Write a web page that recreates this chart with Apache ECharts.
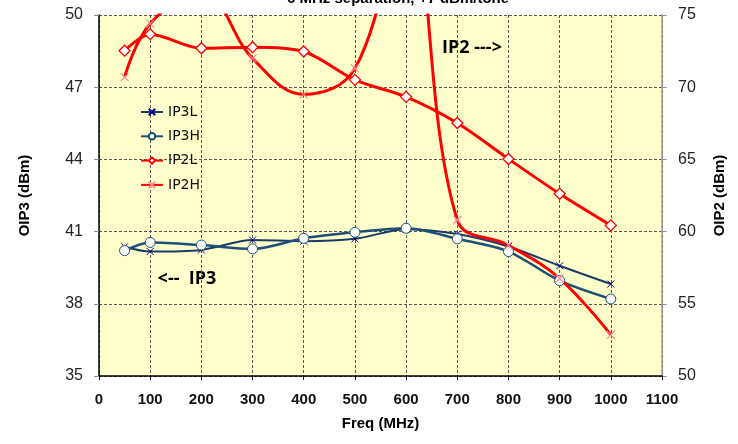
<!DOCTYPE html>
<html>
<head>
<meta charset="utf-8">
<script src="https://cdn.jsdelivr.net/npm/echarts@6/dist/echarts.min.js"></script>
<style>
html,body{margin:0;padding:0;background:#fff;}
#chart{width:738px;height:444px;}
</style>
</head>
<body>
<div id="chart"></div>
<script>
const titleText = '6 MHz separation, +7 dBm/tone';
const freq = [50, 100, 200, 300, 400, 500, 600, 700, 800, 900, 1000];
const ip3l = [40.37, 40.17, 40.24, 40.65, 40.6, 40.7, 41.1, 40.9, 40.38, 39.58, 38.82];
const ip3h = [40.21, 40.55, 40.44, 40.28, 40.72, 40.97, 41.14, 40.7, 40.17, 38.96, 38.2];
const ip2l = [72.53, 73.67, 72.7, 72.77, 72.47, 70.51, 69.33, 67.52, 65.03, 62.62, 60.43];
const ip2h = [70.7, 74.4, 76.6, 72.0, 69.5, 71.3, 82, 60.8, 59.05, 56.75, 52.85];
const xTicks = {min: 0, max: 1100, interval: 100};
const yLeftTicks = {min: 35, max: 50, interval: 3};
const yRightTicks = {min: 50, max: 75, interval: 5};

const pair = arr => freq.map((f, i) => [f, arr[i]]);
const crossPath = 'path://M0,0L10,10M10,0L0,10';

const chart = echarts.init(document.getElementById('chart'), null, {renderer: 'canvas'});
const gridDash = {color: '#555', type: [3, 2], width: 1};
chart.setOption({
  animation: false,
  backgroundColor: '#ffffff',
  grid: {left: 99, right: 76, top: 15, bottom: 68, show: true, backgroundColor: '#FFFFCC', borderWidth: 0},
  legend: {
    orient: 'vertical', left: 140, top: 105, padding: 0, itemWidth: 22, itemHeight: 8, itemGap: 10.3,
    textStyle: {fontFamily: 'DejaVu Sans', fontSize: 14, color: '#111'},
    data: ['IP3L', 'IP3H', 'IP2L', 'IP2H']
  },
  graphic: [
    {type: 'text', x: 398, y: -1, style: {text: titleText, font: 'bold 15px "Liberation Sans"', fill: '#000', textAlign: 'center', textVerticalAlign: 'middle'}},
    {type: 'text', x: 187, y: 279, style: {text: '<--  IP3', font: 'bold 18px "Open Sans"', fill: '#000', textAlign: 'center', textVerticalAlign: 'middle'}},
    {type: 'text', x: 472, y: 48, style: {text: 'IP2 --->', font: 'bold 18px "Open Sans"', fill: '#000', textAlign: 'center', textVerticalAlign: 'middle'}}
  ],
  xAxis: {
    type: 'value', min: xTicks.min, max: xTicks.max, interval: xTicks.interval,
    name: 'Freq (MHz)', nameLocation: 'middle', nameGap: 40,
    nameTextStyle: {fontFamily: 'Liberation Sans', fontWeight: 'bold', fontSize: 15, color: '#000'},
    axisLine: {onZero: false, lineStyle: {color: '#000', width: 1.5}},
    axisTick: {show: true, length: 4, lineStyle: {color: '#000'}},
    axisLabel: {margin: 16, fontFamily: 'Liberation Sans', fontWeight: 'bold', fontSize: 15, color: '#111', formatter: v => String(v)},
    splitLine: {show: true, lineStyle: gridDash}
  },
  yAxis: [
    {
      type: 'value', position: 'left', min: yLeftTicks.min, max: yLeftTicks.max, interval: yLeftTicks.interval,
      name: 'OIP3 (dBm)', nameLocation: 'middle', nameGap: 67, nameRotate: 90,
      nameTextStyle: {fontFamily: 'Liberation Sans', fontWeight: 'bold', fontSize: 15, color: '#000'},
      axisLine: {show: true, onZero: false, lineStyle: {color: '#000', width: 1.5}},
      axisTick: {show: true, length: 5, lineStyle: {color: '#888'}},
      axisLabel: {margin: 16, fontFamily: 'Liberation Sans', fontSize: 16, color: '#222'},
      splitLine: {show: true, lineStyle: gridDash}
    },
    {
      type: 'value', position: 'right', min: yRightTicks.min, max: yRightTicks.max, interval: yRightTicks.interval,
      name: 'OIP2 (dBm)', nameLocation: 'middle', nameGap: 50, nameRotate: 90,
      nameTextStyle: {fontFamily: 'Liberation Sans', fontWeight: 'bold', fontSize: 15, color: '#000'},
      axisLine: {show: true, onZero: false, lineStyle: {color: '#999', width: 1.5}},
      axisTick: {show: true, length: 5, lineStyle: {color: '#999'}},
      axisLabel: {margin: 16, fontFamily: 'Liberation Sans', fontSize: 16, color: '#222'},
      splitLine: {show: false}
    }
  ],
  series: [
    {
      name: 'IP3L', type: 'line', yAxisIndex: 0, data: pair(ip3l), smooth: 0.3,
      symbol: crossPath, symbolSize: 7, color: '#1B3A66',
      lineStyle: {color: '#1B3A66', width: 2},
      itemStyle: {color: '#00008B', borderColor: '#00008B', borderWidth: 1}
    },
    {
      name: 'IP3H', type: 'line', yAxisIndex: 0, data: pair(ip3h), smooth: 0.3,
      symbol: 'circle', symbolSize: 10, color: '#1F4E79',
      lineStyle: {color: '#1F4E79', width: 2.5},
      itemStyle: {color: '#ffffff', borderColor: '#1F4E79', borderWidth: 1}
    },
    {
      name: 'IP2L', type: 'line', yAxisIndex: 1, data: pair(ip2l), smooth: 0.3,
      symbol: 'diamond', symbolSize: 11, color: '#FF0000',
      lineStyle: {color: '#FF0000', width: 3},
      itemStyle: {color: '#ffffff', borderColor: '#FF0000', borderWidth: 1.3}
    },
    {
      name: 'IP2H', type: 'line', yAxisIndex: 1, data: pair(ip2h), smooth: 0.4,
      symbol: crossPath, symbolSize: 8, color: '#FF0000',
      lineStyle: {color: '#FF0000', width: 3},
      itemStyle: {color: '#FF8C8C', borderColor: '#FF8C8C', borderWidth: 1.2}
    }
  ]
});
</script>
</body>
</html>
